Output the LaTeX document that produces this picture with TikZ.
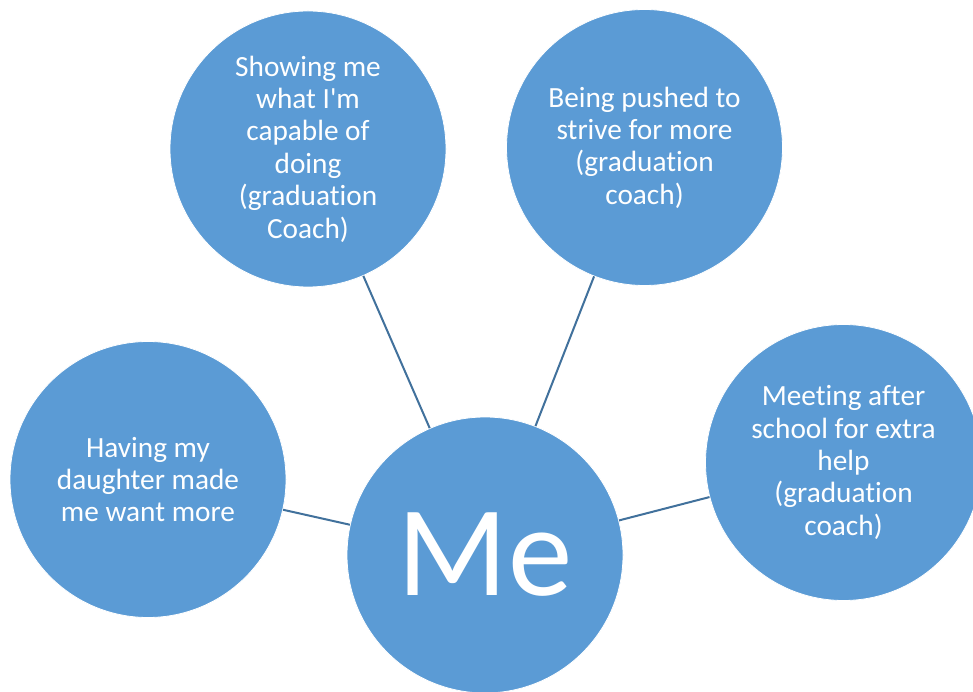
\documentclass[tikz,border=0pt]{standalone}
\usepackage{fontspec}
\setmainfont{Carlito}[Ligatures={NoCommon,TeXOff}]
\definecolor{bubblefill}{HTML}{5B9BD5}
\definecolor{linkline}{HTML}{41719C}
\tikzset{
  bubble/.style={circle, fill=bubblefill, draw=white, line width=0.8pt, minimum size=276pt, inner sep=0pt, text=white, align=center, font=\fontsize{29.3}{32.4}\selectfont},
  hub/.style={bubble, font=\fontsize{129}{129}\selectfont},
  link/.style={draw=linkline, line width=2pt}
}
\begin{document}
\begin{tikzpicture}[x=1pt,y=1pt]
\useasboundingbox (0,0) rectangle (973,691);
\fill[white] (0,0) rectangle (973,691);
\node[bubble] (tl) at (308,542) {Showing me\\what I'm\\capable of\\doing\\(graduation\\Coach)};
\node[bubble] (tr) at (644.5,543.5) {Being pushed to\\strive for more\\(graduation\\coach)};
\node[bubble] (lf) at (148,211.5) {Having my\\daughter made\\me want more};
\node[bubble] (rt) at (843.5,228.5) {Meeting after\\school for extra\\help\\(graduation\\coach)};
\node[hub] (me) at (485,136) {Me};
\draw[link] (tl) -- (me);
\draw[link] (tr) -- (me);
\draw[link] (lf) -- (me);
\draw[link] (rt) -- (me);
\end{tikzpicture}
\end{document}
